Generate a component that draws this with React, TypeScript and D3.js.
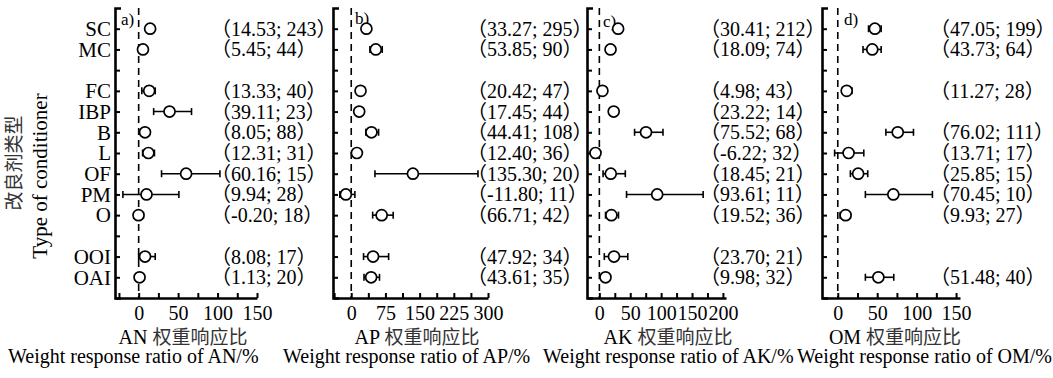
import * as React from 'react';
import { useRef, useEffect } from 'react';
import * as d3 from 'd3';

// row order of the y axis (gap rows are left empty)
const rowOrder = ['SC', 'MC', 'gap1', 'FC', 'IBP', 'B', 'L', 'OF', 'PM', 'O', 'gap2', 'OOI', 'OAI'];
const categories = ['SC', 'MC', 'FC', 'IBP', 'B', 'L', 'OF', 'PM', 'O', 'OOI', 'OAI'];

// AN
const anMean = [14.53, 5.45, 13.33, 39.11, 8.05, 12.31, 60.16, 9.94, -0.2, 8.08, 1.13];
const anLow = [11, 2, 4, 19, 4, 5, 29, -20, -6, 0, -2];
const anHigh = [18, 9, 21, 67, 12, 20, 103, 51, 6, 21, 4];
const anN = [243, 44, 40, 23, 88, 31, 15, 28, 18, 17, 20];

// AP
const apMean = [33.27, 53.85, 20.42, 17.45, 44.41, 12.4, 135.3, -11.8, 66.71, 47.92, 43.61];
const apLow = [29, 41, 16, 12, 32, 8, 52, -25, 47, 27, 28];
const apHigh = [37, 68, 25, 23, 60, 17, 278, 8, 92, 82, 62];
const apN = [295, 90, 47, 44, 108, 36, 20, 11, 42, 34, 35];

// AK
const akMean = [30.41, 18.09, 4.98, 23.22, 75.52, -6.22, 18.45, 93.61, 19.52, 23.7, 9.98];
const akLow = [26, 14, 1, 18, 57, -10, 6, 44, 10, 8, 6];
const akHigh = [35, 22, 9, 29, 103, -2, 42, 168, 31, 46, 14];
const akN = [212, 74, 43, 14, 68, 32, 21, 11, 36, 21, 32];

// OM (no data for IBP and OOI)
const omMean = [47.05, 43.73, 11.27, null, 76.02, 13.71, 25.85, 70.45, 9.93, null, 51.48];
const omLow = [39, 32, 6, null, 61, -4, 16, 35, 3, null, 35];
const omHigh = [55, 55, 18, null, 96, 33, 38, 120, 16, null, 71];
const omN = [199, 64, 28, null, 111, 17, 15, 10, 27, null, 40];

// ticks
const anTicks = [-25, 0, 25, 50, 75, 100, 125, 150];
const anTickLabels = [0, 50, 100, 150];
const apTicks = [-37.5, 0, 37.5, 75, 112.5, 150, 187.5, 225, 262.5, 300];
const apTickLabels = [0, 75, 150, 225, 300];
const akTicks = [0, 25, 50, 75, 100, 125, 150, 175, 200];
const akTickLabels = [0, 50, 100, 150, 200];
const omTicks = [0, 25, 50, 75, 100, 125, 150];
const omTickLabels = [0, 50, 100, 150];

const panelTags = ['a)', 'b)', 'c)', 'd)'];
const indicators = ['AN', 'AP', 'AK', 'OM'];

const serif = "'Liberation Serif', 'Times New Roman', serif";
const cjk = "'Noto Sans CJK SC', sans-serif";

type Panel = {
  mean: (number | null)[];
  low: (number | null)[];
  high: (number | null)[];
  n: (number | null)[];
  domain: [number, number];
  ticks: number[];
  tickLabels: number[];
};

const panels: Panel[] = [
  { mean: anMean, low: anLow, high: anHigh, n: anN, domain: [-30, 150], ticks: anTicks, tickLabels: anTickLabels },
  { mean: apMean, low: apLow, high: apHigh, n: apN, domain: [-40, 300], ticks: apTicks, tickLabels: apTickLabels },
  { mean: akMean, low: akLow, high: akHigh, n: akN, domain: [-20, 205], ticks: akTicks, tickLabels: akTickLabels },
  { mean: omMean, low: omLow, high: omHigh, n: omN, domain: [-20, 155], ticks: omTicks, tickLabels: omTickLabels },
];

// pixel layout per panel
const layout = [
  { x0: 115, x1: 257, labelX: 211, tagX: 121, tagY: 25, titleX: 183, bottomX: 8 },
  { x0: 333, x1: 488, labelX: 467, tagX: 355, tagY: 24, titleX: 417, bottomX: 283 },
  { x0: 587, x1: 726, labelX: 700, tagX: 603, tagY: 27, titleX: 668, bottomX: 543 },
  { x0: 822, x1: 960, labelX: 930, tagX: 844, tagY: 25, titleX: 895, bottomX: 797 },
];

const W = 1053;
const H = 378;
const top = 8;
const bottom = 298;

export default function App() {
  const svgRef = useRef<SVGSVGElement | null>(null);

  useEffect(() => {
    if (!svgRef.current) return;
    const svg = d3.select(svgRef.current);
    svg.selectAll('*').remove();

    const y = d3.scalePoint<string>().domain(rowOrder).range([top, bottom]).padding(1);

    // y axis titles
    svg.append('text')
      .attr('transform', `translate(21, 163) rotate(-90)`)
      .attr('text-anchor', 'middle')
      .attr('font-family', cjk)
      .attr('font-size', 19)
      .attr('fill', '#333')
      .text('改良剂类型');
    svg.append('text')
      .attr('transform', `translate(47, 176) rotate(-90)`)
      .attr('text-anchor', 'middle')
      .attr('font-family', serif)
      .attr('font-size', 21)
      .attr('fill', '#000')
      .text('Type of conditioner');

    // category labels
    categories.forEach(c => {
      svg.append('text')
        .attr('x', 111)
        .attr('y', y(c)!)
        .attr('dy', '0.35em')
        .attr('text-anchor', 'end')
        .attr('font-family', serif)
        .attr('font-size', 21)
        .text(c);
    });

    panels.forEach((p, pi) => {
      const lay = layout[pi];
      const x = d3.scaleLinear().domain(p.domain).range([lay.x0, lay.x1]);
      const g = svg.append('g');

      // zero line
      g.append('line')
        .attr('x1', x(0)).attr('x2', x(0))
        .attr('y1', top).attr('y2', bottom)
        .attr('stroke', '#000')
        .attr('stroke-width', 1.6)
        .attr('stroke-dasharray', '7,5');

      // y axis, inward ticks
      const yAxis = g.append('g')
        .attr('transform', `translate(${lay.x0},0)`)
        .call(d3.axisRight(y).tickSize(5).tickSizeOuter(6).tickFormat(() => ''));
      yAxis.select('.domain').attr('stroke-width', 2.6);
      yAxis.selectAll('.tick line').attr('stroke-width', 2);

      // x axis, inward ticks, labels below
      const xAxis = g.append('g')
        .attr('transform', `translate(0,${bottom})`)
        .call(d3.axisBottom(x)
          .tickValues(p.ticks)
          .tickSize(-5)
          .tickSizeOuter(0)
          .tickPadding(8)
          .tickFormat(d => (p.tickLabels.includes(+d) ? String(d) : '')));
      xAxis.select('.domain').attr('stroke-width', 2.6);
      xAxis.selectAll('.tick line').attr('stroke-width', 2);
      xAxis.selectAll('.tick text')
        .attr('font-family', serif)
        .attr('font-size', 20)
        .attr('fill', '#000');

      // panel tag
      g.append('text')
        .attr('x', lay.tagX)
        .attr('y', lay.tagY)
        .attr('font-family', serif)
        .attr('font-size', 17)
        .text(panelTags[pi]);

      // error bars + points
      categories.forEach((c, i) => {
        const m = p.mean[i];
        if (m == null) return;
        const lo = p.low[i] as number;
        const hi = p.high[i] as number;
        const cy = y(c)!;
        g.append('line')
          .attr('x1', x(lo)).attr('x2', x(hi))
          .attr('y1', cy).attr('y2', cy)
          .attr('stroke', '#000').attr('stroke-width', 1.6);
        [lo, hi].forEach(v => {
          g.append('line')
            .attr('x1', x(v)).attr('x2', x(v))
            .attr('y1', cy - 3.5).attr('y2', cy + 3.5)
            .attr('stroke', '#000').attr('stroke-width', 1.6);
        });
        g.append('circle')
          .attr('cx', x(m)).attr('cy', cy).attr('r', 5.5)
          .attr('fill', '#fff')
          .attr('stroke', '#000')
          .attr('stroke-width', 1.7);

        // (mean; n) label with full-width brackets
        const lab = g.append('text')
          .attr('x', lay.labelX)
          .attr('y', cy)
          .attr('dy', '0.35em')
          .attr('font-size', 20);
        lab.append('tspan').attr('font-family', cjk).text('（');
        lab.append('tspan').attr('font-family', serif).text(`${m.toFixed(2)}; ${p.n[i]}`);
        lab.append('tspan').attr('font-family', cjk).text('）');
      });

      // axis title
      const t = g.append('text')
        .attr('x', lay.titleX)
        .attr('y', 344)
        .attr('text-anchor', 'middle')
        .attr('font-size', 20);
      t.append('tspan').attr('font-family', serif).text(indicators[pi] + ' ');
      t.append('tspan').attr('font-family', cjk).attr('fill', '#333').attr('font-size', 19).text('权重响应比');

      g.append('text')
        .attr('x', lay.bottomX)
        .attr('y', 363)
        .attr('font-family', serif)
        .attr('font-size', 20)
        .text(`Weight response ratio of ${indicators[pi]}/%`);
    });
  }, []);

  return (
    <svg
      ref={svgRef}
      width={W}
      height={H}
      style={{ position: 'absolute', left: 0, top: 0, background: '#fff', display: 'block' }}
    />
  );
}
